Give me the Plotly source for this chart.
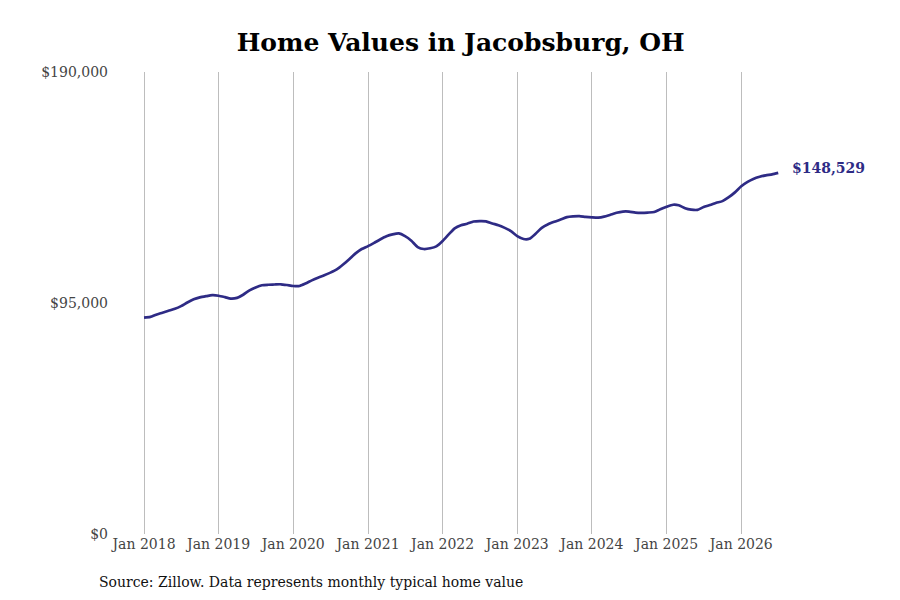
import pandas as pd
import plotly.graph_objects as go

# monthly typical home value, Jan 2018 - Jul 2026 (thousands of $)
months = pd.date_range("2018-01-01", periods=103, freq="MS")
values_k = [
    89.0, 89.3, 90.2, 91.0, 91.8, 92.6, 93.7, 95.2, 96.5, 97.3, 97.8, 98.2,
    98.0, 97.4, 96.8, 97.1, 98.4, 100.2, 101.4, 102.3, 102.5, 102.6, 102.7, 102.4,
    102.0, 102.0, 103.0, 104.3, 105.4, 106.4, 107.5, 108.8, 110.8, 113.0, 115.4, 117.2,
    118.4, 119.8, 121.1, 122.4, 123.2, 123.6, 122.5, 120.6, 118.0, 117.2, 117.5, 118.3,
    120.5, 123.3, 125.7, 127.0, 127.6, 128.5, 128.7, 128.6, 127.7, 127.0, 125.9, 124.6,
    122.5, 121.3, 121.4, 123.5, 125.9, 127.4, 128.4, 129.3, 130.3, 130.6, 130.7, 130.4,
    130.2, 130.1, 130.5, 131.3, 132.1, 132.6, 132.6, 132.2, 132.1, 132.2, 132.4, 133.6,
    134.6, 135.4, 135.2, 134.0, 133.4, 133.3, 134.5, 135.3, 136.2, 136.9, 138.5, 140.5,
    143.0, 144.8, 146.0, 146.9, 147.5, 147.9, 148.529,
]
values = [v * 1000 for v in values_k]

tick_dates = pd.date_range("2018-01-01", "2026-01-01", freq="YS")
tick_labels = [d.strftime("Jan %Y") for d in tick_dates]
y_ticks = [0, 95000, 190000]
y_labels = ["$0", "$95,000", "$190,000"]

line_color = "#2e2b85"
serif = "DejaVu Serif"

fig = go.Figure()
fig.add_trace(go.Scatter(
    x=months, y=values, mode="lines",
    line=dict(color=line_color, width=2.7, shape="spline", smoothing=0.6),
    hoverinfo="skip", showlegend=False,
))

fig.add_annotation(
    x=months[-1], y=values[-1], text=f"<b>${values[-1]:,.0f}</b>",
    showarrow=False, xanchor="left", xshift=12, yshift=5,
    font=dict(family=serif, size=14, color=line_color),
)

fig.add_annotation(
    x=0, xref="paper", xanchor="left", xshift=-18,
    y=0, yref="paper", yanchor="top", yshift=-38,
    text="Source: Zillow. Data represents monthly typical home value",
    showarrow=False, font=dict(family=serif, size=14, color="#111111"),
)

fig.update_layout(
    width=900, height=600,
    margin=dict(l=107, r=48, t=64, b=74),
    paper_bgcolor="white", plot_bgcolor="white",
    title=dict(text="<b>Home Values in Jacobsburg, OH</b>", x=0.503, xanchor="center",
               y=0.943, yanchor="middle", font=dict(family=serif, size=25, color="#000000")),
    xaxis=dict(
        range=["2017-08-12", "2027-08-05"],
        tickvals=tick_dates, ticktext=tick_labels,
        showgrid=True, gridcolor="#bdbdbd", gridwidth=1,
        zeroline=False, showline=False, ticks="",
        tickfont=dict(family=serif, size=14, color="#444444"),
    ),
    yaxis=dict(
        range=[0, 190000],
        tickvals=y_ticks, ticktext=y_labels,
        showgrid=False, zeroline=False, showline=False, ticks="",
        tickfont=dict(family=serif, size=14, color="#444444"),
        ticklabelstandoff=6,
    ),
)

fig.write_html("out.html")
